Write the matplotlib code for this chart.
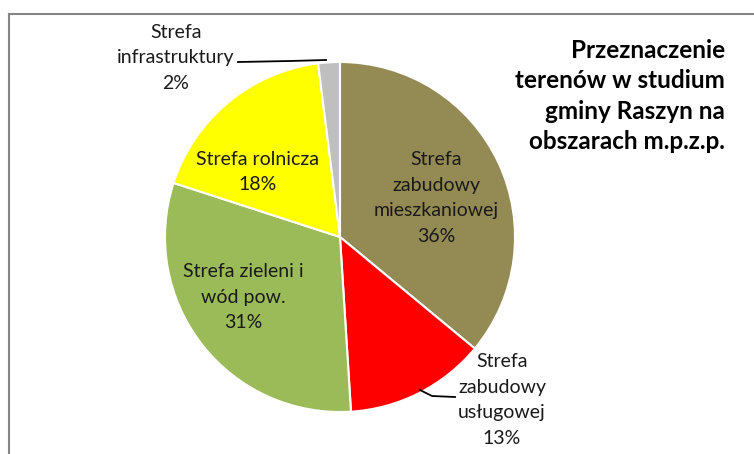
import matplotlib.pyplot as plt
from matplotlib.lines import Line2D

plt.rcParams['font.family'] = ['Lato', 'DejaVu Sans']

categories = ["Strefa\nzabudowy\nmieszkaniowej", "Strefa\nzabudowy\nusługowej",
              "Strefa zieleni i\nwód pow.", "Strefa rolnicza", "Strefa\ninfrastruktury"]
values = [36, 13, 31, 18, 2]
colors = ["#948A54", "#FF0000", "#9BBB59", "#FFFF00", "#BFBFBF"]
title = "Przeznaczenie\nterenów w studium\ngminy Raszyn na\nobszarach m.p.z.p."

W, H = 754, 454
fig = plt.figure(figsize=(W / 100, H / 100), dpi=100)
ax = fig.add_axes([0, 0, 1, 1])
ax.set_xlim(0, W)
ax.set_ylim(0, H)
ax.set_aspect('equal')
ax.axis('off')

cx, cy, r = 340, H - 237, 175
ax.pie(values, colors=colors, startangle=90, counterclock=False,
       center=(cx, cy), radius=r, frame=True,
       wedgeprops=dict(edgecolor='white', linewidth=1.5))
ax.set_xlim(0, W)
ax.set_ylim(0, H)
ax.axis('off')

# labels (pixel positions measured from top)
label_pos = [(436, 198), (502, 400), (243, 297), (258, 172), (176, 58)]
for name, v, (x, y) in zip(categories, values, label_pos):
    ax.text(x, H - y, f"{name}\n{v}%", ha='center', va='center',
            fontsize=14, color='#1a1a1a', linespacing=1.6)

# leader lines
ax.plot([238, 290, 326], [H - 62, H - 61, H - 60], color='black', lw=1.3)
ax.plot([420, 432, 455], [H - 390, H - 396, H - 397], color='black', lw=1.3)

ax.text(725, H - 96, title, ha='right', va='center', fontsize=17.5,
        fontweight='bold', color='black', linespacing=1.4)

# chart frame
fig.add_artist(Line2D([9 / W, 1], [1 - 14 / H, 1 - 14 / H], color='#868686', lw=1.5))
fig.add_artist(Line2D([9 / W, 9 / W], [0, 1 - 14 / H], color='#868686', lw=1.5))

fig.savefig('out.png', dpi=100, facecolor='white')
